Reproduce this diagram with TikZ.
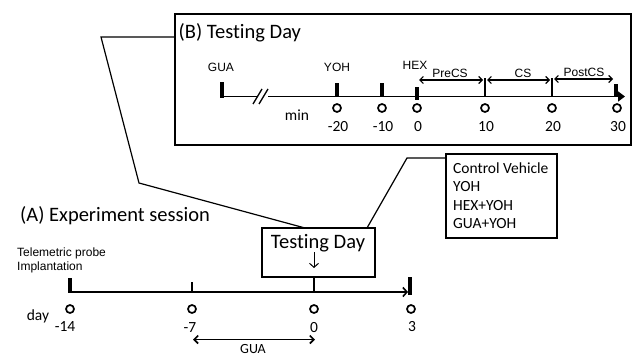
\documentclass[tikz,border=0pt]{standalone}
\usepackage{fontspec}
\setmainfont[Ligatures=NoCommon]{Carlito}
\newfontfamily\arialf{Liberation Sans}
\usetikzlibrary{arrows.meta}
\begin{document}
\begin{tikzpicture}[x=1pt,y=-1pt,
  box/.style={draw, line width=1.4pt, inner sep=0pt, outer sep=0pt},
  axis/.style={line width=1.6pt},
  bar/.style={line width=3.6pt},
  tick/.style={line width=1.6pt},
  dot/.style={circle, draw, line width=1.7pt, minimum size=8pt, inner sep=0pt},
  num/.style={font=\fontsize{15.5}{15.5}\selectfont, inner sep=0pt},
  sm/.style={font=\arialf\fontsize{12}{12}\selectfont, inner sep=0pt},
  big/.style={font=\fontsize{20.5}{20.5}\selectfont, inner sep=0pt},
  conn/.style={line width=1.2pt},
  dbl/.style={line width=1.2pt, {Straight Barb[length=3.5pt,width=7pt]}-{Straight Barb[length=3.5pt,width=7pt]}},
  dbltwo/.style={line width=1.6pt, {Straight Barb[length=4pt,width=8pt]}-{Straight Barb[length=4pt,width=8pt]}}
]
\useasboundingbox (0,0) rectangle (633,356);
\fill[white] (0,0) rectangle (633,356);

% ---------- (B) Testing Day box ----------
\node[box, anchor=north west, minimum width=456pt, minimum height=131pt] (boxB) at (175,14) {};
\node[big, anchor=west] (titleB) at (178.5,33) {(B) Testing Day};

% timeline B
\draw[axis, -{Triangle[length=7pt,width=10pt]}] (222,96.5) -- (625,96.5);
\draw[bar] (222,82) -- (222,98);
\draw[bar] (337,83) -- (337,97);
\draw[bar] (382,83) -- (382,97);
\draw[bar] (417,87) -- (417,100);
\draw[tick] (485,78) -- (485,96.5);
\draw[tick] (552,78) -- (552,96.5);
\draw[bar] (616,84) -- (616,97);
% break marks
\fill[white] (257,93) rectangle (268,100);
\draw[line width=1.3pt] (253,104) -- (262,89);
\draw[line width=1.3pt] (259,104) -- (268,89);

\node[sm] (lGUA) at (221,67) {GUA};
\node[sm] (lYOH) at (337,67) {YOH};
\node[sm] (lHEX) at (415,65) {HEX};
\node[sm] (lPre) at (450,73) {PreCS};
\node[sm] (lCS) at (523,73) {CS};
\node[sm] (lPost) at (584,72) {PostCS};
\draw[dbl] (419,80) -- (483,80);
\draw[dbl] (487,80) -- (550,80);
\draw[dbl] (554,79) -- (613,79);

\node[num] (lmin) at (297,115) {min};
\foreach \x/\t/\n in {337/-20/a,382/-10/b,417/0/c,485/10/d,552/20/e,617/30/f}{
  \node[dot] (dB\n) at (\x,108) {};
  \node[num] (nB\n) at (\x+1,127) {\t};
}

% ---------- (A) Experiment session ----------
\node[big, anchor=west] (titleA) at (20,216) {(A) Experiment session};
\node[sm, anchor=west] (tel1) at (17,253) {Telemetric probe};
\node[sm, anchor=west] (tel2) at (17,267) {Implantation};

\node[box, anchor=north west, minimum width=113pt, minimum height=49pt] (td) at (262,228) {};
\node[big] (tdtxt) at (318,243) {Testing Day};
\draw[line width=1pt, -{Straight Barb[length=4pt,width=9pt]}] (314,252) -- (314,268);

\draw[axis, -{Straight Barb[length=4pt,width=9pt]}] (70,292) -- (408,292);
\draw[bar] (70,278) -- (70,292.8);
\draw[tick] (192,282) -- (192,292);
\draw[tick] (td.south -| 314,0) -- (314,292);
\draw[bar] (410,277) -- (410,295);

\node[num] (lday) at (38,316) {day};
\foreach \x/\t/\n in {70/-14/a,192/-7/b,314/0/c,411/3/d}{
  \node[dot] (dA\n) at (\x,309) {};
}
\node[num] (nAa) at (65,327) {-14};
\node[num] (nAb) at (190,328) {-7};
\node[num] (nAc) at (314,328) {0};
\node[num] (nAd) at (412,327) {3};

\draw[dbltwo] (193,339.5) -- (315,339.5);
\node[num, font=\fontsize{14}{14}\selectfont] (lGUAa) at (253,349) {GUA};

% ---------- Control box ----------
\node[box, anchor=north west, minimum width=111pt, minimum height=84pt] (ctrl) at (446,154) {};
\node[anchor=west, align=left, font=\fontsize{15.5}{18.4}\selectfont, inner sep=0pt] (ctrltxt) at (453,195.5)
  {Control Vehicle\\YOH\\HEX+YOH\\GUA+YOH};

% ---------- connectors ----------
\coordinate (k1) at (101,37);
\coordinate (k2) at (139,183);
\coordinate (k3) at (305,0);
\draw[conn] (boxB.west |- k1) -- (k1) -- (k2) -- (k3 |- td.north);
\coordinate (k4) at (407,158);
\coordinate (k5) at (367,0);
\draw[conn] (ctrl.west |- k4) -- (k4) -- (k5 |- td.north);
\end{tikzpicture}
\end{document}
